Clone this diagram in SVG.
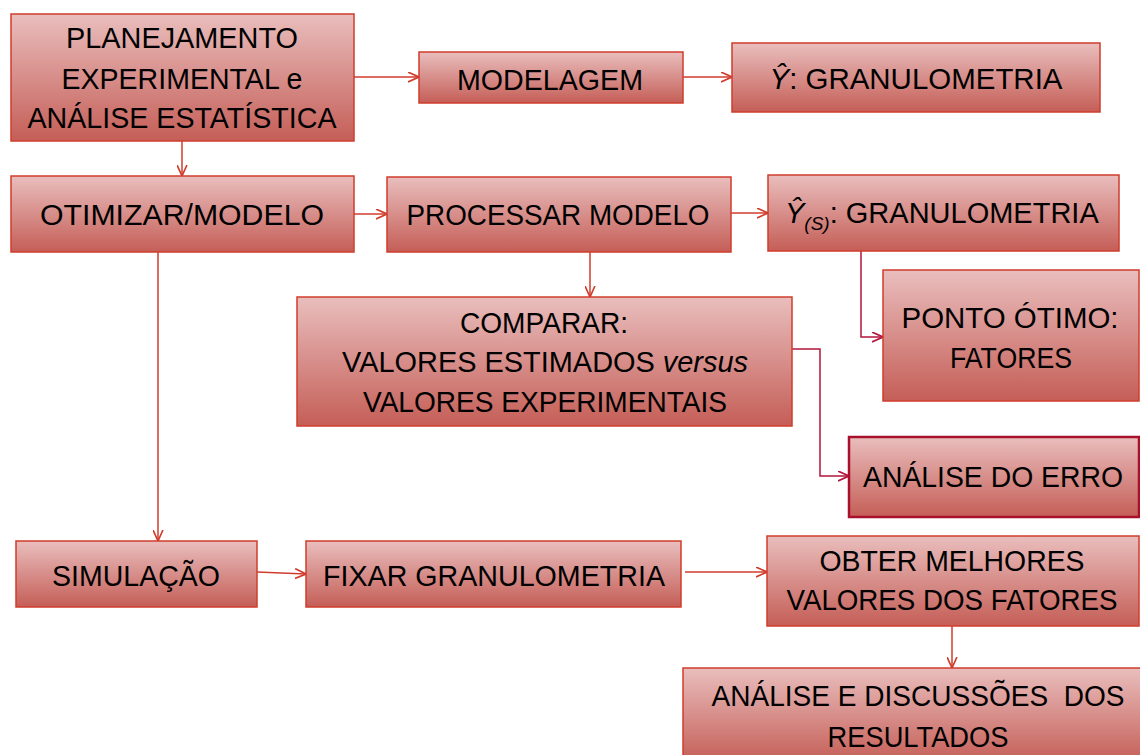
<svg xmlns="http://www.w3.org/2000/svg" width="1140" height="755" viewBox="0 0 1140 755">
<defs>
<linearGradient id="g" x1="0" y1="0" x2="0" y2="1">
<stop offset="0" stop-color="#e9bebd"/>
<stop offset="1" stop-color="#c55e57"/>
</linearGradient>
<marker id="ar" viewBox="0 0 10 10" markerWidth="11" markerHeight="11" refX="10" refY="5" orient="auto" markerUnits="userSpaceOnUse">
<path d="M0,0.5 L10,5 L0,9.5" fill="none" stroke="#d03c2c" stroke-width="1.5"/>
</marker>
<marker id="ac" viewBox="0 0 10 10" markerWidth="11" markerHeight="11" refX="10" refY="5" orient="auto" markerUnits="userSpaceOnUse">
<path d="M0,0.5 L10,5 L0,9.5" fill="none" stroke="#b3163a" stroke-width="1.5"/>
</marker>
</defs>
<style>
.box{fill:url(#g);stroke:#d03c2c;stroke-width:1.5}
.err{fill:url(#g);stroke:#a8102c;stroke-width:2.5}
text{font-family:"Liberation Sans",Arial,sans-serif;font-size:29px;fill:#000;text-anchor:middle}
.l{text-anchor:start}
.c{fill:none;stroke:#d03c2c;stroke-width:1.5;marker-end:url(#ar)}
.cc{fill:none;stroke:#b3163a;stroke-width:1.5;marker-end:url(#ac)}
</style>
<rect width="1140" height="755" fill="#fff"/>
<g id="connectors">
<path class="c" d="M354,77 H419"/>
<path class="c" d="M683,77 H732"/>
<path class="c" d="M182,141 V176"/>
<path class="c" d="M354,214 H387"/>
<path class="c" d="M731,213 H768"/>
<path class="c" d="M590,252 V297"/>
<path class="cc" d="M861,251 V337 H883"/>
<path class="cc" d="M792,349 H820 V476 H849"/>
<path class="c" d="M158,252 V541"/>
<path class="c" d="M257,572 L306,574"/>
<path class="c" d="M685,572 H767"/>
<path class="c" d="M952,626 V668"/>
</g>
<g id="planejamento">
<rect class="box" x="11" y="14" width="343" height="127"/>
<text x="182" y="48" textLength="232" lengthAdjust="spacingAndGlyphs">PLANEJAMENTO</text>
<text x="182" y="89" textLength="241" lengthAdjust="spacingAndGlyphs">EXPERIMENTAL e</text>
<text x="182" y="128" textLength="309" lengthAdjust="spacingAndGlyphs">ANÁLISE ESTATÍSTICA</text>
</g>
<g id="modelagem">
<rect class="box" x="419" y="52" width="264" height="51"/>
<text x="550" y="90" textLength="186" lengthAdjust="spacingAndGlyphs">MODELAGEM</text>
</g>
<g id="yhat">
<rect class="box" x="732" y="43" width="368" height="69"/>
<text x="916" y="89" textLength="293" lengthAdjust="spacingAndGlyphs"><tspan font-style="italic">Ŷ</tspan>: GRANULOMETRIA</text>
</g>
<g id="otimizar">
<rect class="box" x="11" y="176" width="343" height="76"/>
<text x="182" y="225" textLength="284" lengthAdjust="spacingAndGlyphs">OTIMIZAR/MODELO</text>
</g>
<g id="processar">
<rect class="box" x="387" y="177" width="344" height="75"/>
<text x="558" y="225" textLength="303" lengthAdjust="spacingAndGlyphs">PROCESSAR MODELO</text>
</g>
<g id="yhats">
<rect class="box" x="768" y="175" width="351" height="76"/>
<text class="l" x="785" y="223"><tspan font-style="italic">Ŷ</tspan><tspan font-style="italic" font-size="19" dy="7">(S)</tspan><tspan dy="-7">: GRANULOMETRIA</tspan></text>
</g>
<g id="comparar">
<rect class="box" x="297" y="297" width="495" height="129"/>
<text x="544" y="333" textLength="168" lengthAdjust="spacingAndGlyphs">COMPARAR:</text>
<text x="545" y="372" textLength="406" lengthAdjust="spacingAndGlyphs">VALORES ESTIMADOS <tspan font-style="italic">versus</tspan></text>
<text x="545" y="412" textLength="364" lengthAdjust="spacingAndGlyphs">VALORES EXPERIMENTAIS</text>
</g>
<g id="ponto">
<rect class="box" x="883" y="270" width="256" height="131"/>
<text x="1010" y="328" textLength="217" lengthAdjust="spacingAndGlyphs">PONTO ÓTIMO:</text>
<text x="1011" y="368" textLength="122" lengthAdjust="spacingAndGlyphs">FATORES</text>
</g>
<g id="erro">
<rect class="err" x="849" y="437" width="290" height="80"/>
<text x="993" y="487" textLength="260" lengthAdjust="spacingAndGlyphs">ANÁLISE DO ERRO</text>
</g>
<g id="simulacao">
<rect class="box" x="16" y="541" width="241" height="66"/>
<text x="136" y="586" textLength="168" lengthAdjust="spacingAndGlyphs">SIMULAÇÃO</text>
</g>
<g id="fixar">
<rect class="box" x="306" y="541" width="375" height="66"/>
<text x="494" y="586" textLength="342" lengthAdjust="spacingAndGlyphs">FIXAR GRANULOMETRIA</text>
</g>
<g id="obter">
<rect class="box" x="767" y="536" width="372" height="90"/>
<text x="952" y="571" textLength="265" lengthAdjust="spacingAndGlyphs">OBTER MELHORES</text>
<text x="952" y="610" textLength="331" lengthAdjust="spacingAndGlyphs">VALORES DOS FATORES</text>
</g>
<g id="analise">
<rect class="box" x="683" y="668" width="465" height="95"/>
<text x="918" y="706" textLength="413" lengthAdjust="spacingAndGlyphs" xml:space="preserve">ANÁLISE E DISCUSSÕES  DOS</text>
<text x="918" y="747" textLength="181" lengthAdjust="spacingAndGlyphs">RESULTADOS</text>
</g>
</svg>
